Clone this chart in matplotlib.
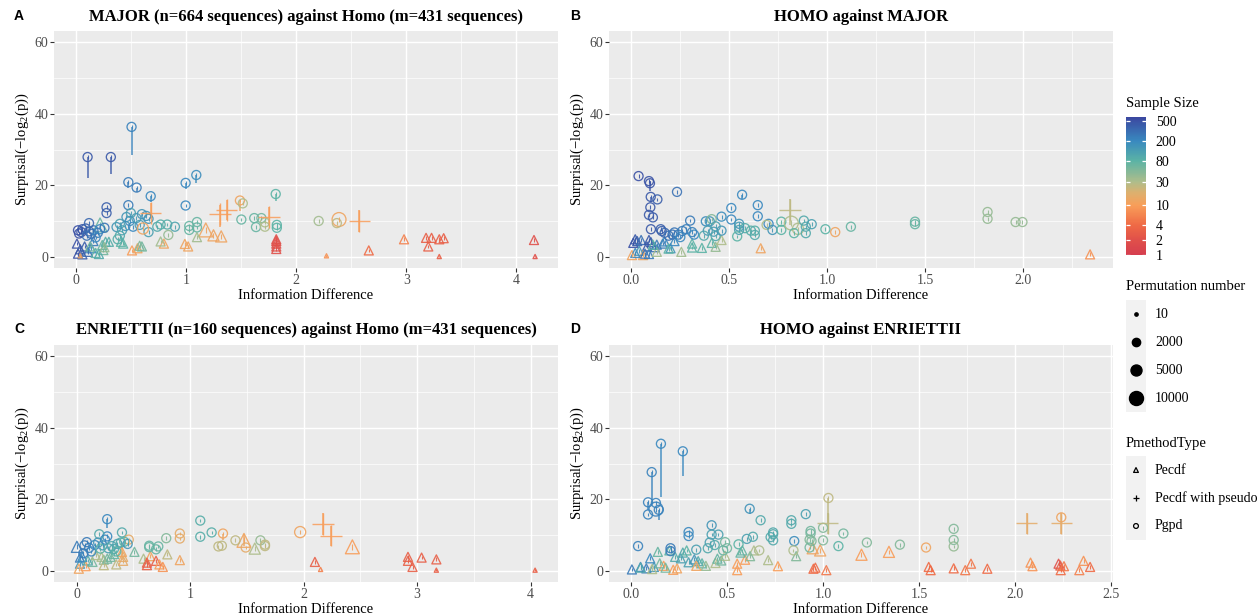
import numpy as np
import matplotlib
matplotlib.use('Agg')
import matplotlib.pyplot as plt
from matplotlib.colors import LinearSegmentedColormap, LogNorm
from matplotlib.cm import ScalarMappable

plt.rcParams['font.family'] = ['Liberation Serif', 'DejaVu Serif']
plt.rcParams['mathtext.fontset'] = 'custom'
plt.rcParams['mathtext.rm'] = 'Liberation Serif'
plt.rcParams['mathtext.it'] = 'Liberation Serif:italic'

# ---------------- data ----------------
TITLES = ["MAJOR (n=664 sequences) against Homo (m=431 sequences)",
          "HOMO against MAJOR",
          "ENRIETTII (n=160 sequences) against Homo (m=431 sequences)",
          "HOMO against ENRIETTII"]
LETTERS = ["A", "B", "C", "D"]
SIZE_BREAKS = [1, 2, 4, 10, 30, 80, 200, 500]
PERM_BREAKS = [10, 2000, 5000, 10000]
METHODS = ["Pecdf", "Pecdf with pseudo", "Pgpd"]

# Panel A
A_x = [0.107, 0.318, 0.506, 0.477, 0.552, 0.68, 0.997, 1.094, 0.997, 0.477,
       0.279, 0.279, 1.815, 1.49, 1.516, 1.503, 1.62, 1.685, 1.636, 1.717,
       1.717, 1.825, 1.825, 2.205, 2.39, 2.37, 2.575, 1.31, 1.37, 1.756,
       0.68, 1.18, 1.25, 1.32, 1.10, 1.82, 1.82, 1.82, 1.82, 1.82,
       2.98, 3.18, 3.23, 3.20, 3.30, 3.34, 3.30, 2.66, 2.276, 4.16,
       4.17, 0.51, 0.56, 0.58, 0.60, 0.80, 0.77, 0.99, 1.02, 0.41,
       0.43, 0.27, 0.30, 0.24, 0.25, 0.22, 0.02, 0.03, 0.05, 0.06,
       0.09, 0.12, 0.14, 0.16, 0.20, 0.22, 0.26, 0.12, 0.18, 0.10,
       0.37, 0.40, 0.42, 0.45, 0.46, 0.49, 0.50, 0.52, 0.55, 0.58,
       0.60, 0.64, 0.66, 0.66, 0.61, 0.74, 0.77, 0.83, 0.90, 0.84,
       1.03, 1.03, 1.10, 1.10, 0.40, 0.38, 0.01, 0.02, 0.04, 0.06,
       0.08, 0.11, 0.14, 0.16, 0.18, 0.21, 0.04, 0.13, 0.26]
A_y = [27.9, 27.9, 36.3, 20.9, 19.4, 17.0, 20.7, 22.9, 14.4, 14.5,
       13.9, 12.3, 17.6, 15.8, 15.0, 10.5, 10.9, 10.9, 8.4, 8.5,
       9.7, 9.0, 8.2, 10.1, 10.5, 9.5, 10.1, 12.0, 13.2, 11.2,
       12.3, 7.6, 6.1, 5.8, 5.6, 2.3, 3.0, 3.8, 4.5, 5.0,
       5.0, 5.4, 5.4, 3.0, 5.0, 5.3, 0.2, 1.9, 0.4, 4.8,
       0.2, 1.9, 2.5, 3.2, 3.0, 3.8, 4.4, 3.7, 3.0, 4.3,
       3.8, 4.3, 4.3, 3.4, 2.0, 9.0, 7.5, 6.6, 7.0, 7.8,
       8.0, 7.2, 6.5, 7.5, 6.8, 7.8, 8.2, 9.5, 5.5, 6.0,
       8.4, 9.3, 7.5, 8.7, 11.2, 10.1, 12.3, 8.5, 10.9, 9.0,
       12.0, 11.5, 10.7, 7.0, 8.0, 8.5, 9.1, 9.1, 8.5, 6.2,
       8.7, 7.6, 9.8, 8.3, 6.0, 5.0, 3.8, 1.0, 2.2, 0.8,
       3.0, 1.5, 2.5, 4.5, 1.2, 0.9, 0.4, 3.0, 2.8]
A_n = [450, 450, 220, 250, 250, 200, 200, 180, 200, 250,
       400, 400, 80, 12, 30, 70, 70, 60, 70, 30,
       30, 80, 80, 35, 12, 25, 10, 10, 10, 10,
       10, 12, 12, 12, 35, 2, 2, 2, 2, 2,
       6, 3, 3, 3, 3, 3, 3, 4, 8, 2,
       2, 10, 12, 50, 60, 12, 35, 12, 12, 80,
       80, 90, 90, 70, 60, 70, 500, 500, 480, 450,
       400, 350, 300, 300, 250, 200, 280, 350, 200, 300,
       150, 120, 120, 150, 150, 180, 120, 200, 130, 130,
       150, 160, 150, 120, 12, 100, 90, 90, 110, 40,
       70, 70, 70, 70, 100, 90, 500, 500, 450, 400,
       400, 350, 200, 250, 80, 100, 12, 60, 40]
A_perm = [2000, 2000, 2000, 2000, 2000, 2000, 2000, 2000, 2000, 2000,
          2000, 2000, 2000, 2000, 2000, 2000, 2000, 2000, 2000, 2000,
          2000, 2000, 2000, 2000, 10000, 2000, 10000, 10000, 10000, 10000,
          10000, 10000, 5000, 5000, 2000, 2000, 2000, 2000, 2000, 2000,
          2000, 2000, 2000, 2000, 2000, 2000, 10, 2000, 10, 2000,
          10, 2000, 2000, 2000, 2000, 2000, 2000, 2000, 2000, 2000,
          2000, 2000, 2000, 2000, 2000, 10000, 2000, 2000, 2000, 2000,
          2000, 2000, 2000, 2000, 2000, 2000, 2000, 2000, 2000, 2000,
          2000, 2000, 2000, 2000, 2000, 2000, 2000, 2000, 2000, 2000,
          2000, 2000, 2000, 2000, 5000, 2000, 2000, 2000, 2000, 2000,
          2000, 2000, 2000, 2000, 2000, 2000, 2000, 2000, 2000, 2000,
          2000, 2000, 2000, 2000, 2000, 2000, 10, 2000, 2000]
A_shape = list("cccccccccccccccccccccccccc" "ppppp"
               "ttttttttttttttttttttttttttttttttttt"
               "cccccccccccccccccccccccccccccccccccccccc" "ttttttttttttt")
A_wx = [0.107, 0.318, 0.506, 0.477, 0.552, 0.68, 0.997, 1.094, 1.815, 1.49, 2.575, 1.31, 1.37, 1.756, 0.68]
A_wlo = [22.0, 23.2, 28.4, 19.4, 18.2, 15.4, 19.0, 20.6, 15.6, 13.0, 7.1, 8.5, 10.5, 9.0, 11.0]
A_whi = [27.9, 27.9, 36.3, 20.9, 19.4, 17.0, 20.7, 22.9, 17.6, 15.8, 13.2, 14.5, 16.0, 14.0, 15.0]
A_wn = [450, 450, 220, 250, 250, 200, 200, 180, 80, 12, 10, 10, 10, 10, 10]

# Panel B
B_x = [0.037, 0.09, 0.095, 0.099, 0.133, 0.097, 0.09, 0.11, 0.233, 0.10,
       0.565, 0.51, 0.645, 0.645, 0.51, 0.30, 0.15, 0.155, 0.17, 0.19,
       0.21, 0.22, 0.24, 0.26, 0.28, 0.31, 0.32, 0.25, 0.38, 0.40,
       0.41, 0.46, 0.42, 0.43, 0.37, 0.39, 0.46, 0.43, 0.55, 0.55,
       0.55, 0.54, 0.58, 0.61, 0.63, 0.63, 0.70, 0.69, 0.72, 0.765,
       0.765, 0.816, 0.85, 0.83, 0.88, 0.89, 0.89, 0.92, 0.99, 1.04,
       1.12, 1.447, 1.447, 1.817, 1.817, 1.96, 1.995, 0.81, 0.01, 0.02,
       0.03, 0.05, 0.08, 0.09, 0.10, 0.12, 0.13, 0.16, 0.17, 0.20,
       0.003, 0.06, 0.02, 0.04, 0.07, 0.09, 0.13, 0.255, 0.19, 0.31,
       0.31, 0.36, 0.41, 0.43, 0.46, 0.66, 2.34, 0.22, 0.11]
B_y = [22.6, 21.2, 20.6, 16.8, 16.1, 13.9, 11.8, 11.1, 18.2, 7.8,
       17.4, 13.7, 14.5, 11.4, 10.5, 10.2, 7.8, 7.3, 6.8, 6.0,
       6.3, 6.9, 6.3, 7.3, 7.8, 7.0, 6.3, 5.6, 10.0, 10.0,
       10.6, 11.3, 7.1, 5.9, 6.0, 7.4, 7.4, 8.6, 9.3, 8.5,
       7.6, 5.8, 8.1, 7.4, 7.4, 6.2, 9.3, 9.0, 7.6, 9.9,
       7.6, 9.5, 7.9, 6.7, 10.2, 8.5, 6.7, 9.2, 7.8, 7.0,
       8.5, 9.9, 9.2, 12.6, 10.7, 9.8, 9.8, 13.2, 4.0, 5.0,
       4.5, 4.8, 3.0, 4.8, 4.2, 2.8, 3.5, 3.8, 4.4, 2.5,
       0.6, 0.6, 1.2, 1.8, 1.0, 0.9, 1.5, 1.5, 2.4, 3.8,
       2.7, 2.6, 4.0, 2.9, 4.8, 2.5, 0.8, 4.5, 3.5]
B_n = [500, 480, 480, 450, 400, 450, 450, 420, 300, 450,
       200, 200, 200, 200, 200, 250, 400, 400, 350, 300,
       300, 280, 250, 250, 230, 220, 200, 200, 180, 150,
       50, 180, 130, 100, 100, 130, 150, 120, 150, 130,
       120, 80, 90, 90, 90, 100, 200, 30, 150, 80,
       80, 30, 30, 80, 100, 100, 100, 120, 80, 12,
       70, 70, 70, 40, 40, 40, 40, 25, 500, 450,
       400, 300, 450, 450, 400, 300, 250, 250, 200, 150,
       12, 12, 200, 150, 300, 250, 35, 35, 80, 80,
       80, 80, 80, 40, 30, 12, 8, 200, 80]
B_perm = [2000, 2000, 2000, 2000, 2000, 2000, 2000, 2000, 2000, 2000,
          2000, 2000, 2000, 2000, 2000, 2000, 2000, 2000, 2000, 2000,
          2000, 2000, 2000, 2000, 2000, 2000, 2000, 2000, 2000, 2000,
          2000, 2000, 2000, 2000, 2000, 2000, 2000, 2000, 2000, 2000,
          2000, 2000, 2000, 2000, 2000, 2000, 2000, 2000, 2000, 2000,
          2000, 10000, 5000, 2000, 2000, 2000, 2000, 2000, 2000, 2000,
          2000, 2000, 2000, 2000, 2000, 2000, 2000, 10000, 2000, 2000,
          2000, 2000, 2000, 2000, 2000, 2000, 2000, 2000, 2000, 2000,
          2000, 2000, 2000, 2000, 2000, 2000, 2000, 2000, 2000, 2000,
          2000, 2000, 2000, 2000, 2000, 2000, 2000, 2000, 2000]
B_shape = list("ccccccccccccccccccccccccccccccccccccccccccccccccccccccccccccccccccc" "p"
               "ttttttttttttttttttttttttttttttt")
B_wx = [0.095, 0.81, 0.099, 0.565]
B_wlo = [18.4, 9.0, 15.5, 16.2]
B_whi = [21.2, 16.2, 16.8, 17.4]
B_wn = [480, 25, 450, 200]

# Panel C
C_x = [0.27, 0.27, 0.20, 0.40, 0.46, 1.09, 1.09, 1.19, 0.91, 0.91,
       1.29, 1.40, 1.25, 1.28, 1.49, 1.62, 1.66, 1.66, 1.97, 0.64,
       0.64, 0.70, 0.72, 0.79, 0.09, 0.07, 0.11, 0.16, 0.19, 0.23,
       0.25, 0.28, 0.31, 0.33, 0.36, 0.39, 0.42, 0.45, 0.13, 0.06,
       0.21, 0.35, 2.17, 2.24, 1.475, 1.57, 2.43, 2.10, 2.15, 2.92,
       2.92, 2.96, 3.04, 3.17, 3.17, 4.04, 0.003, 0.51, 0.80, 0.59,
       0.65, 0.62, 0.62, 0.70, 0.73, 0.76, 0.91, 0.03, 0.03, 0.02,
       0.08, 0.14, 0.22, 0.24, 0.24, 0.30, 0.35, 0.41, 0.41, 0.40,
       0.05, 0.10, 0.17, 0.27, 0.33]
C_y = [14.5, 9.7, 10.3, 10.8, 8.8, 14.1, 9.6, 10.8, 10.5, 9.1,
       10.5, 8.6, 6.9, 7.1, 6.6, 8.6, 7.4, 7.0, 10.9, 7.1,
       6.7, 6.1, 6.9, 9.2, 8.1, 7.2, 6.5, 7.3, 8.0, 7.2,
       8.8, 6.4, 7.0, 6.2, 7.6, 8.0, 8.2, 7.6, 5.5, 5.0,
       6.3, 5.5, 13.2, 9.9, 8.6, 6.3, 6.8, 2.6, 0.5, 4.0,
       2.9, 1.2, 3.8, 3.3, 0.3, 0.3, 6.8, 5.4, 4.7, 3.5,
       4.2, 2.4, 1.7, 2.9, 1.9, 1.2, 3.1, 3.8, 2.1, 0.7,
       1.4, 2.6, 4.0, 3.2, 1.7, 4.0, 1.9, 2.9, 4.0, 5.4,
       4.0, 3.0, 4.5, 3.5, 4.8]
C_n = [200, 200, 100, 100, 15, 90, 90, 90, 15, 15,
       12, 25, 25, 25, 15, 40, 25, 25, 12, 70,
       70, 70, 70, 50, 250, 250, 220, 200, 150, 150,
       200, 120, 100, 100, 120, 100, 80, 150, 200, 250,
       80, 80, 10, 10, 12, 30, 10, 3, 6, 3,
       3, 3, 3, 3, 3, 3, 250, 60, 25, 30,
       12, 3, 3, 3, 10, 8, 12, 250, 150, 12,
       10, 60, 30, 40, 25, 60, 25, 15, 15, 12,
       200, 100, 30, 60, 70]
C_perm = [2000, 2000, 2000, 2000, 2000, 2000, 2000, 2000, 2000, 2000,
          2000, 2000, 2000, 2000, 2000, 2000, 2000, 2000, 5000, 2000,
          2000, 2000, 2000, 2000, 2000, 2000, 2000, 2000, 2000, 2000,
          2000, 2000, 2000, 2000, 2000, 2000, 2000, 2000, 2000, 2000,
          2000, 2000, 10000, 10000, 10000, 5000, 10000, 2000, 10, 2000,
          2000, 2000, 2000, 2000, 10, 10, 5000, 2000, 2000, 2000,
          2000, 2000, 2000, 2000, 2000, 2000, 2000, 2000, 2000, 2000,
          2000, 2000, 2000, 2000, 2000, 2000, 2000, 2000, 2000, 2000,
          2000, 2000, 2000, 2000, 2000]
C_shape = list("cccccccccccccccccccccccccccccccccccccccccc" "pp"
               "ttttttttttttttttttttttttttttttttttttttttt")
C_wx = [0.27, 1.29, 2.17, 2.24, 0.40, 1.475]
C_wlo = [11.9, 8.8, 10.2, 7.1, 3.0, 7.0]
C_whi = [14.5, 10.5, 16.2, 12.7, 8.0, 10.5]
C_wn = [200, 12, 10, 10, 12, 12]

# Panel D
D_x = [0.156, 0.27, 0.108, 0.089, 0.089, 0.13, 0.13, 0.145, 0.037, 0.30,
       0.30, 0.42, 0.42, 0.455, 0.40, 0.41, 0.436, 0.206, 0.206, 0.34,
       0.618, 0.675, 0.603, 0.635, 0.56, 0.49, 0.835, 0.835, 0.91, 0.85,
       0.74, 0.74, 0.74, 0.727, 0.935, 0.935, 0.93, 0.94, 0.93, 1.0,
       1.0, 1.08, 1.106, 1.028, 1.228, 1.40, 1.536, 1.68, 1.68, 1.68,
       0.846, 0.668, 2.24, 0.48, 0.50, 1.024, 2.06, 2.24, 0.946, 0.985,
       1.2, 1.343, 1.55, 1.56, 1.68, 1.74, 1.77, 1.855, 2.08, 2.09,
       2.226, 2.235, 2.237, 2.254, 2.334, 2.356, 2.39, 0.95, 0.96, 1.017,
       0.765, 0.714, 0.553, 0.553, 0.594, 0.64, 0.62, 0.57, 0.58, 0.86,
       0.14, 0.05, 0.005, 0.08, 0.10, 0.12, 0.17, 0.22, 0.24, 0.20,
       0.23, 0.26, 0.27, 0.29, 0.30, 0.33, 0.35, 0.37, 0.39, 0.44,
       0.45, 0.47, 0.49, 0.34, 0.05, 0.15, 0.18, 0.11]
D_y = [35.5, 33.4, 27.6, 19.2, 15.8, 19.0, 17.3, 17.1, 7.0, 10.9,
       9.8, 12.8, 10.2, 10.2, 6.4, 8.0, 7.3, 6.4, 5.6, 6.0,
       17.4, 14.2, 9.0, 9.6, 7.5, 8.1, 14.2, 13.2, 15.9, 8.4,
       10.8, 10.3, 8.6, 9.5, 11.2, 10.5, 8.8, 8.4, 6.6, 12.1,
       8.6, 7.0, 10.5, 20.4, 8.0, 7.4, 6.6, 11.8, 8.7, 6.9,
       5.8, 5.8, 15.0, 5.8, 6.4, 13.3, 13.3, 13.3, 6.4, 5.8,
       4.6, 5.4, 1.2, 0.3, 0.8, 0.3, 2.1, 0.7, 2.4, 1.4,
       2.1, 1.6, 0.3, 1.4, 0.3, 2.9, 1.2, 0.7, 1.0, 0.3,
       1.4, 3.1, 2.1, 0.3, 3.2, 5.8, 4.2, 5.2, 5.8, 4.2,
       5.4, 1.2, 0.5, 0.8, 3.6, 1.2, 1.5, 0.4, 0.8, 5.8,
       4.0, 3.6, 5.2, 5.8, 2.5, 3.3, 2.8, 2.2, 1.5, 2.3,
       3.5, 3.0, 4.3, 1.5, 1.0, 2.2, 1.0, 0.6]
D_n = [200, 200, 220, 220, 220, 220, 220, 220, 220, 200,
       200, 150, 120, 120, 100, 120, 100, 250, 250, 120,
       160, 100, 120, 100, 80, 60, 100, 100, 120, 180,
       100, 100, 100, 100, 60, 60, 50, 50, 60, 50,
       50, 80, 60, 25, 50, 50, 12, 50, 50, 40,
       30, 30, 12, 70, 60, 25, 15, 15, 12, 12,
       10, 10, 4, 4, 4, 5, 5, 4, 8, 8,
       2, 3, 4, 5, 6, 8, 4, 4, 4, 5,
       10, 30, 10, 10, 10, 30, 50, 70, 70, 50,
       70, 200, 250, 250, 200, 150, 10, 10, 12, 80,
       100, 120, 100, 80, 120, 150, 100, 80, 40, 30,
       70, 60, 30, 12, 100, 60, 60, 30]
D_perm = [2000, 2000, 2000, 2000, 2000, 2000, 10000, 2000, 2000, 2000,
          2000, 2000, 2000, 2000, 2000, 2000, 2000, 2000, 2000, 2000,
          2000, 2000, 2000, 2000, 2000, 2000, 2000, 2000, 2000, 2000,
          2000, 2000, 2000, 2000, 2000, 2000, 2000, 2000, 2000, 2000,
          2000, 2000, 2000, 2000, 2000, 2000, 2000, 2000, 2000, 2000,
          2000, 2000, 2000, 2000, 2000, 10000, 10000, 10000, 5000, 5000,
          5000, 5000, 2000, 2000, 2000, 2000, 2000, 2000, 2000, 2000,
          2000, 2000, 2000, 2000, 2000, 2000, 2000, 2000, 2000, 2000,
          2000, 2000, 2000, 2000, 2000, 2000, 2000, 2000, 2000, 2000,
          2000, 2000, 2000, 2000, 2000, 2000, 2000, 2000, 2000, 2000,
          2000, 2000, 2000, 2000, 2000, 2000, 2000, 2000, 2000, 2000,
          2000, 2000, 2000, 2000, 2000, 2000, 2000, 2000]
D_shape = list("ccccccccccccccccccccccccccccccccccccccccccccccccccccccc" "ppp"
               "tttttttttttttttttttttttttttttttttttttttttttttttttttttttttttt")
D_wx = [0.156, 0.27, 0.108, 0.089, 0.145, 1.028, 1.024, 2.06, 2.24, 0.618]
D_wlo = [20.6, 26.4, 19.7, 17.0, 14.2, 13.3, 10.5, 10.3, 10.3, 16.0]
D_whi = [35.5, 33.4, 27.6, 19.2, 17.1, 20.4, 16.2, 16.3, 16.3, 17.4]
D_wn = [200, 200, 220, 220, 220, 25, 25, 15, 15, 160]

# ---------------- style ----------------
W, H = 1257, 615
cmap = LinearSegmentedColormap.from_list('ss', [
    (0.000, '#D53E4F'), (0.108, '#E0504A'), (0.216, '#EF6A45'),
    (0.359, '#F89E59'), (0.450, '#DDB06E'), (0.530, '#AEBD8B'),
    (0.683, '#5BB3A5'), (0.826, '#3989BF'), (1.000, '#3B47A0')])
norm = LogNorm(vmin=1, vmax=610)
SIZE_PT = {10: 3.0, 2000: 6.5, 5000: 8.0, 10000: 10.0}
SHAPE_F = {'c': 1.0, 't': 1.0, 'p': 1.55}
MK = {'c': 'o', 't': '^', 'p': '+'}

fig = plt.figure(figsize=(W / 100, H / 100), dpi=100)

def px_axes(left, top, right, bottom):
    return fig.add_axes([left / W, 1 - bottom / H, (right - left) / W, (bottom - top) / H])

panels = [
    (A_x, A_y, A_n, A_perm, A_shape, A_wx, A_wlo, A_whi, A_wn),
    (B_x, B_y, B_n, B_perm, B_shape, B_wx, B_wlo, B_whi, B_wn),
    (C_x, C_y, C_n, C_perm, C_shape, C_wx, C_wlo, C_whi, C_wn),
    (D_x, D_y, D_n, D_perm, D_shape, D_wx, D_wlo, D_whi, D_wn),
]
boxes = [(54, 31, 558, 268), (609, 31, 1113, 268), (54, 345, 558, 582), (609, 345, 1113, 582)]
xmaj = [[0, 1, 2, 3, 4], [0, 0.5, 1, 1.5, 2], [0, 1, 2, 3, 4], [0, 0.5, 1, 1.5, 2, 2.5]]
xlab = [['0', '1', '2', '3', '4'], ['0.0', '0.5', '1.0', '1.5', '2.0'],
        ['0', '1', '2', '3', '4'], ['0.0', '0.5', '1.0', '1.5', '2.0', '2.5']]
xmin_ = [[0.5, 1.5, 2.5, 3.5], [0.25, 0.75, 1.25, 1.75, 2.25],
         [0.5, 1.5, 2.5, 3.5], [0.25, 0.75, 1.25, 1.75, 2.25]]

for k, (x, y, n, perm, shape, wx, wlo, whi, wn) in enumerate(panels):
    ax = px_axes(*boxes[k])
    x = np.array(x); y = np.array(y); n = np.array(n, float)
    perm = np.array(perm); shape = np.array(shape)
    ax.set_facecolor('#EBEBEB')
    for s in ax.spines.values():
        s.set_visible(False)
    ax.set_xticks(xmaj[k]); ax.set_xticklabels(xlab[k])
    ax.set_xticks(xmin_[k], minor=True)
    ax.set_yticks([0, 20, 40, 60]); ax.set_yticks([10, 30, 50], minor=True)
    ax.grid(which='major', color='white', lw=1.05)
    ax.grid(which='minor', color='white', lw=0.5)
    ax.set_axisbelow(True)
    ax.tick_params(which='major', length=2.6, width=0.8, color='#333333',
                   labelsize=10, labelcolor='#4D4D4D', pad=1.5)
    ax.tick_params(which='minor', length=0)
    lo, hi = x.min(), x.max()
    pad = 0.05 * (hi - lo)
    ax.set_xlim(lo - pad, hi + pad)
    ax.set_ylim(-3, 63)

    ax.vlines(wx, wlo, whi, colors=cmap(norm(np.array(wn, float))), lw=1.1, alpha=0.9, zorder=3)
    cols = cmap(norm(n))
    for shp in ['t', 'c', 'p']:
        idx = np.where(shape == shp)[0]
        if len(idx) == 0:
            continue
        ms = np.array([SIZE_PT[p] for p in perm[idx]]) * SHAPE_F[shp]
        if shp == 'p':
            ax.scatter(x[idx], y[idx], s=ms ** 2, marker='+', c=cols[idx],
                       linewidths=1.0, alpha=0.85, zorder=4)
        else:
            ax.scatter(x[idx], y[idx], s=ms ** 2, marker=MK[shp], facecolors='none',
                       edgecolors=cols[idx], linewidths=0.95, alpha=0.9, zorder=4)
            ax.scatter(x[idx], y[idx], s=(ms * 0.42) ** 2, marker='|', c=cols[idx],
                       linewidths=0.8, alpha=0.9, zorder=4)
    ax.set_xlabel('Information Difference', fontsize=10.5, labelpad=2)
    ax.set_ylabel(r'Surprisal(−log$_2$(p))', fontsize=10.5, labelpad=2.5)

# overlay for titles & legends (pixel coordinates)
lg = fig.add_axes([0, 0, 1, 1])
lg.set_xlim(0, W); lg.set_ylim(H, 0); lg.axis('off')
title_pos = [(306, 17), (861, 17), (306, 330), (861, 330)]
letter_pos = [(14, 16), (570, 16), (14, 329), (570, 329)]
for k in range(4):
    lg.text(*title_pos[k], TITLES[k], ha='center', va='center', fontsize=12, fontweight='bold')
    lg.text(*letter_pos[k], LETTERS[k], ha='left', va='center', fontsize=10,
            fontweight='bold', family='Liberation Sans')

# Sample Size colourbar
lg.text(1126, 104, 'Sample Size', ha='left', va='center', fontsize=10.5)
cax = px_axes(1126, 117, 1146, 255)
cb = fig.colorbar(ScalarMappable(norm=norm, cmap=cmap), cax=cax)
cb.outline.set_visible(False)
cb.set_ticks(SIZE_BREAKS)
cb.set_ticklabels([str(v) for v in SIZE_BREAKS])
cax.minorticks_off()
cax.tick_params(length=0, labelsize=10, pad=7)
cax.hlines(SIZE_BREAKS, 0, 0.2, colors='white', lw=0.9)
cax.hlines(SIZE_BREAKS, 0.8, 1.0, colors='white', lw=0.9)

# Permutation number legend
lg.text(1126, 287, 'Permutation number', ha='left', va='center', fontsize=10.5)
lg.add_patch(plt.Rectangle((1126, 300), 20, 112, color='#F2F2F2', lw=0))
perm_y = [314, 342, 370, 398]
perm_d = [3.3, 8.3, 11.0, 14.0]
for yy, d, p in zip(perm_y, perm_d, PERM_BREAKS):
    lg.scatter([1136], [yy], s=(d * 0.72) ** 2, color='black', zorder=5)
    lg.text(1155, yy, str(p), ha='left', va='center', fontsize=10)

# PmethodType legend
lg.text(1126, 443, 'PmethodType', ha='left', va='center', fontsize=10.5)
lg.add_patch(plt.Rectangle((1126, 456), 20, 84, color='#F2F2F2', lw=0))
meth_y = [470, 498, 526]
for yy, m, mk in zip(meth_y, METHODS, ['^', '+', 'o']):
    if mk == '+':
        lg.scatter([1136], [yy], s=16, marker=mk, color='black', linewidths=0.9, zorder=5)
    else:
        lg.scatter([1136], [yy], s=12, marker=mk, facecolors='none', edgecolors='black',
                   linewidths=0.9, zorder=5)
    lg.text(1155, yy, m, ha='left', va='center', fontsize=10)

fig.savefig('out.png', dpi=100)
